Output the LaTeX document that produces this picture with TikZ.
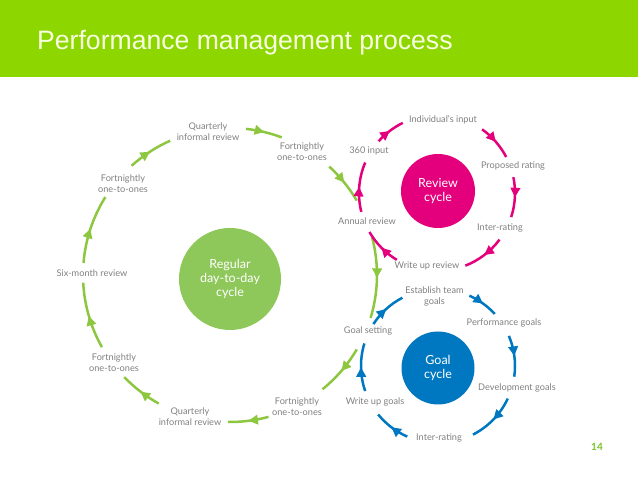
\documentclass[tikz,border=0pt]{standalone}
\usepackage{fontspec}
\setmainfont{Lato}
\newfontfamily\titlefont{Liberation Sans}
\usetikzlibrary{decorations.markings,arrows.meta,calc}
\definecolor{bandgreen}{RGB}{141,214,0}
\definecolor{ringgreen}{RGB}{141,198,63}
\definecolor{discgreen}{RGB}{142,199,90}
\definecolor{pinkc}{RGB}{228,0,124}
\definecolor{bluec}{RGB}{0,120,193}
\definecolor{txtgray}{RGB}{128,128,128}
\definecolor{numgreen}{RGB}{120,195,40}
\newcommand\cycarc[5]{\draw[cyc=#1] ($(#2)+(#4:#3)$) arc[start angle=#4, end angle=#5, radius=#3];}
\begin{document}
\begin{tikzpicture}[x=1pt,y=1pt,
  lbl/.style={text=txtgray, font=\fontsize{9.2}{11}\selectfont, align=center, inner sep=0pt},
  disc/.style={circle, fill=#1, text=white, font=\fontsize{12.5}{14}\selectfont, align=center, inner sep=0pt},
  cyc/.style={draw=#1, line width=2.5pt, postaction={decorate},
    decoration={markings, mark=at position 0.5 with {\arrow[#1]{Triangle[length=9.5pt,width=9.5pt]}}}}]
\useasboundingbox (0,0) rectangle (638,479);
\fill[bandgreen] (0,401.7) rectangle (638,479);
\node[anchor=base west, inner sep=0pt, text={rgb,255:red,248;green,255;blue,225}, font=\titlefont\fontsize{26.6}{30}\selectfont] (title) at (37,429.7) {Performance management process};
\node[font=\bfseries\fontsize{10}{12}\selectfont, text=numgreen, inner sep=0pt] (num) at (597,32) {14};

% ring centres
\coordinate (G) at (230,204);
\coordinate (P) at (437,286);
\coordinate (B) at (438,113);

% discs
\node[disc=discgreen, minimum size=102pt] (gdisc) at (230,200) {Regular\\day-to-day\\cycle};
\node[disc=pinkc, minimum size=74pt] (pdisc) at (438,288) {Review\\cycle};
\node[disc=bluec, minimum size=73pt] (bdisc) at (438,111) {Goal\\cycle};

% green labels
\node[lbl] (g1) at (208,347.5) {Quarterly\\informal review};
\node[lbl] (g2) at (302,327) {Fortnightly\\one-to-ones};
\node[lbl] (g3) at (367,258.3) {Annual review};
\node[lbl] (g4) at (368,148) {Goal setting};
\node[lbl] (g5) at (297,72) {Fortnightly\\one-to-ones};
\node[lbl] (g6) at (190,62) {Quarterly\\informal review};
\node[lbl] (g7) at (114,116.2) {Fortnightly\\one-to-ones};
\node[lbl] (g8) at (92,206.3) {Six-month review};
\node[lbl] (g9) at (123,295.5) {Fortnightly\\one-to-ones};

% pink labels
\node[lbl] (p1) at (443,359.7) {Individual's input};
\node[lbl] (p2) at (513,313) {Proposed rating};
\node[lbl] (p3) at (500,251.3) {Inter-rating};
\node[lbl] (p4) at (427,213.3) {Write up review};
\node[lbl] (p5) at (369,328) {360 input};

% blue labels
\node[lbl] (b1) at (434.5,182.7) {Establish team\\goals};
\node[lbl] (b2) at (504,155.7) {Performance goals};
\node[lbl] (b3) at (517,91.3) {Development goals};
\node[lbl] (b4) at (439,41.3) {Inter-rating};
\node[lbl] (b5) at (375,76.7) {Write up goals};

% green arcs
\cycarc{ringgreen}{G}{147}{132}{114}
\cycarc{ringgreen}{G}{147}{83.7}{69.4}
\cycarc{ringgreen}{G}{147}{47.5}{30.4}
\cycarc{ringgreen}{G}{147}{14.8}{-17}
\cycarc{ringgreen}{G}{147}{-30.4}{-51}
\cycarc{ringgreen}{G}{147}{-74.8}{-90.8}
\cycarc{ringgreen}{G}{147}{-119}{-136}
\cycarc{ringgreen}{G}{147}{-150.6}{-177}
\cycarc{ringgreen}{G}{147}{175.3}{148}

% pink arcs
\cycarc{pinkc}{P}{78}{194}{157}
\cycarc{pinkc}{P}{78}{138.5}{116}
\cycarc{pinkc}{P}{78}{54.7}{27.5}
\cycarc{pinkc}{P}{78}{11.7}{-18}
\cycarc{pinkc}{P}{78}{-36.7}{-68.7}
\cycarc{pinkc}{P}{78}{-121}{-150}

% blue arcs
\cycarc{bluec}{B}{77}{147}{117.5}
\cycarc{bluec}{B}{77}{66}{42.5}
\cycarc{bluec}{B}{77}{23}{-8}
\cycarc{bluec}{B}{77}{-25}{-63}
\cycarc{bluec}{B}{77}{-113.5}{-141}
\cycarc{bluec}{B}{77}{-161}{-197}
\end{tikzpicture}
\end{document}
